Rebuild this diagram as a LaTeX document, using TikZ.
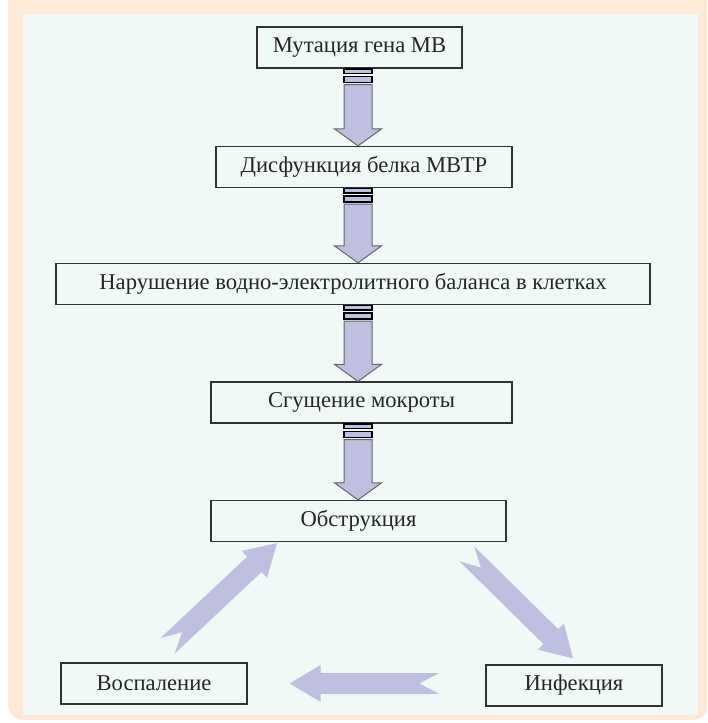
\documentclass[tikz,border=0pt]{standalone}
\usepackage{fontspec}
\setmainfont{Liberation Serif}
\usetikzlibrary{calc}

\definecolor{peach}{RGB}{254,233,216}
\definecolor{panel}{RGB}{240,249,248}
\definecolor{lilac}{RGB}{191,192,223}
\definecolor{frame}{RGB}{50,50,50}

\tikzset{
  box/.style={draw=frame, line width=0.65pt, fill=panel, inner sep=0pt,
    minimum height=20.5pt, font=\fontsize{11.3}{13}\selectfont, text=black!85},
  bar/.style={draw=black, line width=0.7pt, fill=lilac},
  shaft/.style={draw=black!60, line width=0.5pt, fill=lilac},
  fat/.style={fill=lilac}
}

% arrow with two small bars, from the foot of one box to the top of the next
\newcommand{\flowarrow}[2]{%
  \coordinate (t) at (#1.south -| axis);
  \coordinate (h) at (#2.north -| axis);
  \draw[bar] ($(t)+(-14,0.5)$) rectangle ($(t)+(14,5)$);
  \draw[bar] ($(t)+(-14,8)$) rectangle ($(t)+(14,14)$);
  \draw[shaft] ($(t)+(-14,16)$) -- ($(h)+(-14,-17)$) -- ($(h)+(-23.5,-17)$) -- (h)
    -- ($(h)+(23.5,-17)$) -- ($(h)+(14,-17)$) -- ($(t)+(14,16)$) -- cycle;
}

% broad arrow with a notched tail
\newcommand{\fatarrow}[2]{%
  \coordinate (a) at #1;
  \coordinate (b) at #2;
  \coordinate (hb) at ($(b)!15.5pt!(a)$);
  \fill[fat] ($(a)!5.25pt!90:(b)$) -- ($(hb)!5.25pt!90:(b)$) -- ($(hb)!9.25pt!90:(b)$)
    -- (b) -- ($(hb)!9.25pt!-90:(b)$) -- ($(hb)!5.25pt!-90:(b)$)
    -- ($(a)!5.25pt!-90:(b)$) -- ($(a)!10pt!(b)$) -- cycle;
}

\begin{document}
\begin{tikzpicture}[x=0.5pt,y=-0.5pt]
\useasboundingbox (0,0) rectangle (707,723);
\clip (0,0) rectangle (707,723);

% background
\fill[peach, rounded corners=7.5pt] (8,-20) rectangle (708,720);
\fill[panel] (23,14) rectangle (698,715);
\coordinate (axis) at (358,0);

% boxes
\node[box, minimum width=102.5pt] (mut) at (359.5,47.5) {Мутация гена МВ};
\node[box, minimum width=148pt] (dys) at (364,167) {Дисфункция белка МВТР};
\node[box, minimum width=297pt] (bal) at (353,284) {Нарушение водно-электролитного баланса в клетках};
\node[box, minimum width=150.5pt] (spu) at (361.5,402.5) {Сгущение мокроты};
\node[box, minimum width=147.5pt] (obs) at (358.5,521) {Обструкция};
\node[box, minimum width=93pt] (vos) at (154,683.5) {Воспаление};
\node[box, minimum width=88pt] (inf) at (574,685.5) {Инфекция};

% chain
\flowarrow{mut}{dys}
\flowarrow{dys}{bal}
\flowarrow{bal}{spu}
\flowarrow{spu}{obs}

% circle
\fatarrow{($(vos.north)+(13.5,-16.5)$)}{($(obs.south)+(-81.5,1)$)}
\fatarrow{($(obs.south east)+(-40,11.5)$)}{($(inf.north)+(-1,-6)$)}
\fatarrow{($(inf.west)+(-46,-2)$)}{($(vos.east)+(42,0)$)}
\end{tikzpicture}
\end{document}
